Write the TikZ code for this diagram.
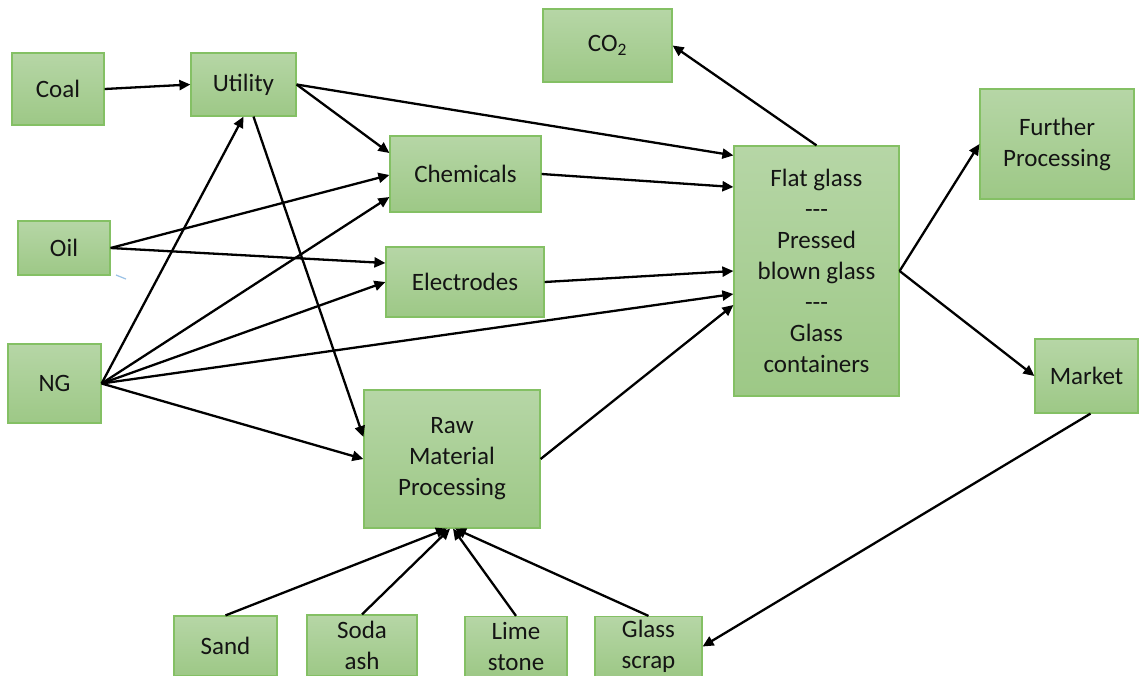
\documentclass[tikz,border=0pt]{standalone}
\usepackage{fontspec}
\setmainfont{Carlito}
\usetikzlibrary{arrows.meta}
\definecolor{boxtop}{RGB}{182,214,166}
\definecolor{boxbot}{RGB}{157,200,134}
\definecolor{boxline}{RGB}{132,192,100}
\definecolor{txt}{RGB}{20,20,20}
\definecolor{tick}{RGB}{155,194,230}
\newcommand{\tridash}{-\kern0pt-\kern0pt-}
\tikzset{
  gbox/.style={draw=boxline, line width=1.2pt, top color=boxtop, bottom color=boxbot,
    inner sep=0pt, align=center, text=txt,
    font=\fontsize{25}{31}\selectfont},
  conn/.style={draw=black, line width=2.3pt, -{Triangle[length=11pt,width=10pt]}},
}
\begin{document}
\begin{tikzpicture}[x=1pt,y=-1pt]
\clip (0,0) rectangle (1139,675);
\fill[white] (0,0) rectangle (1139,675);
% nodes
\node[gbox, minimum width=92pt, minimum height=72pt] (coal) at (58,89) {Coal};
\node[gbox, minimum width=105pt, minimum height=63pt] (util) at (243.5,84.5) {Utility};
\node[gbox, minimum width=129pt, minimum height=73pt] (co2) at (607.5,45.5) {CO\textsubscript{2}};
\node[gbox, minimum width=151pt, minimum height=76pt] (chem) at (465.5,174) {Chemicals};
\node[gbox, minimum width=92pt, minimum height=54pt] (oil) at (64,248) {Oil};
\node[gbox, minimum width=158pt, minimum height=70pt] (elec) at (465,282) {Electrodes};
\node[gbox, minimum width=93pt, minimum height=79pt] (ng) at (54.5,383.5) {NG};
\node[gbox, minimum width=176pt, minimum height=138pt] (raw) at (452,459) {\rule{0pt}{6pt}Raw\\Material\\Processing};
\node[gbox, minimum width=165pt, minimum height=250pt] (flat) at (816.5,271) {Flat glass\\\tridash\\Pressed\\blown glass\\\tridash\\Glass\\containers};
\node[gbox, minimum width=154pt, minimum height=110pt] (fur) at (1057,144) {Further\\Processing};
\node[gbox, minimum width=103pt, minimum height=74pt] (mkt) at (1086.5,376) {Market};
\node[gbox, minimum width=103pt, minimum height=60pt] (sand) at (225.5,646) {Sand};
\node[gbox, minimum width=110pt, minimum height=61pt] (soda) at (362,645.5) {Soda\\ash};
\node[gbox, minimum width=102pt, minimum height=60pt] (lime) at (516,646.5) {Lime\\stone};
\node[gbox, minimum width=107pt, minimum height=60pt] (scrap) at (648.5,646.5) {Glass\\scrap};
% small blue tick
\draw[tick, line width=1.2pt] (116,275) -- (126,279);
% connectors
\draw[conn] (coal.east) -- (util.west);
\draw[conn] (util.east) -- ([yshift=21pt]chem.west);
\draw[conn] (util.east) -- ([yshift=-10pt]flat.north west);
\draw[conn] ([xshift=10pt]util.south) -- ([yshift=22pt]raw.west);
\draw[conn] (ng.east) -- (util.south);
\draw[conn] (oil.east) -- ([yshift=-1pt]chem.west);
\draw[conn] (oil.east) -- ([yshift=19pt]elec.west);
\draw[conn] (ng.east) -- ([yshift=-23pt]chem.west);
\draw[conn] (ng.east) -- (elec.west);
\draw[conn] (ng.east) -- ([yshift=-23pt]flat.west);
\draw[conn] (ng.east) -- (raw.west);
\draw[conn] (chem.east) -- ([yshift=84pt]flat.west);
\draw[conn] (elec.east) -- (flat.west);
\draw[conn] (raw.east) -- ([yshift=-34pt]flat.west);
\draw[conn] (flat.north) -- (co2.east);
\draw[conn] (flat.east) -- (fur.west);
\draw[conn] (flat.east) -- (mkt.west);
\draw[conn] ([xshift=4pt]mkt.south) -- (scrap.east);
\draw[conn] (sand.north) -- ([xshift=-5pt]raw.south);
\draw[conn] (soda.north) -- ([xshift=-2pt]raw.south);
\draw[conn] (lime.north) -- ([xshift=1pt]raw.south);
\draw[conn] (scrap.north) -- ([xshift=3pt]raw.south);
\end{tikzpicture}
\end{document}
